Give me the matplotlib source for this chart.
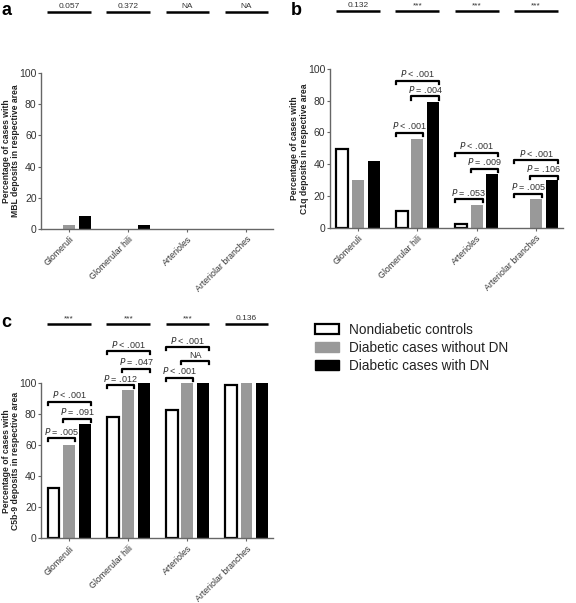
import matplotlib.pyplot as plt
from matplotlib.patches import Patch

plt.rcParams['font.family'] = ['Liberation Sans', 'DejaVu Sans']

# datos
categorias = ["Glomeruli", "Glomerular hili", "Arterioles", "Arteriolar branches"]
grupos = ["Nondiabetic controls", "Diabetic cases without DN", "Diabetic cases with DN"]

mbl_control = [0, 0, 0, 0]
mbl_sin_dn = [2.4, 0, 0, 0]
mbl_con_dn = [8.5, 2.6, 0, 0]

c1q_control = [49.6, 10.7, 2.5, 0]
c1q_sin_dn = [29.8, 56, 14.7, 17.9]
c1q_con_dn = [41.8, 79, 34, 29.8]

c5b9_control = [32.4, 78.4, 82.6, 98.5]
c5b9_sin_dn = [60.4, 95.5, 100, 100]
c5b9_con_dn = [73.5, 100, 100, 100]

global_a = ["0.057", "0.372", "NA", "NA"]
global_b = ["0.132", "***", "***", "***"]
global_c = ["***", "***", "***", "0.136"]

# comparaciones por pares: (categoria, grupo1, grupo2, altura, texto)
pares_b = [
    (1, 0, 2, 92.6, "< .001"), (1, 1, 2, 82.6, "= .004"), (1, 0, 1, 59.9, "< .001"),
    (2, 0, 2, 47.3, "< .001"), (2, 1, 2, 37.2, "= .009"), (2, 0, 1, 18.1, "= .053"),
    (3, 0, 2, 42.6, "< .001"), (3, 1, 2, 32.8, "= .106"), (3, 0, 1, 21.6, "= .005"),
]
pares_c = [
    (0, 0, 2, 87.9, "< .001"), (0, 1, 2, 76.9, "= .091"), (0, 0, 1, 64.4, "= .005"),
    (1, 0, 2, 120.4, "< .001"), (1, 1, 2, 109, "= .047"), (1, 0, 1, 98.5, "= .012"),
    (2, 0, 2, 123, "< .001"), (2, 1, 2, 114, "NA"), (2, 0, 1, 103.4, "< .001"),
]

paso = 0.265
ancho = 0.2
gris = "#999999"
texto_col = "#333333"


def barras(ax, control, sin_dn, con_dn, ylab):
    xs = list(range(len(categorias)))
    # las barras con valor 0 no se ven en el original
    xc = [x - paso for x, v in zip(xs, control) if v > 0]
    vc = [v for v in control if v > 0]
    xg = [x for x, v in zip(xs, sin_dn) if v > 0]
    vg = [v for v in sin_dn if v > 0]
    xn = [x + paso for x, v in zip(xs, con_dn) if v > 0]
    vn = [v for v in con_dn if v > 0]
    ax.bar(xc, vc, ancho, color="white", edgecolor="black", linewidth=1.6)
    ax.bar(xg, vg, ancho, color=gris, linewidth=0)
    ax.bar(xn, vn, ancho, color="black", linewidth=0)
    ax.set_xlim(-0.47, 3.45)
    ax.set_ylim(0, 100)
    ax.set_yticks([0, 20, 40, 60, 80, 100])
    ax.set_xticks(xs)
    ax.set_xticklabels(categorias, rotation=45, ha="right", rotation_mode="anchor",
                       fontsize=6.3, color=texto_col)
    ax.tick_params(axis="y", labelsize=7.5, labelcolor=texto_col, length=2.5,
                   color="#666666", pad=1)
    ax.tick_params(axis="x", length=2.5, color="#666666", pad=1.5)
    for s in ["top", "right"]:
        ax.spines[s].set_visible(False)
    for s in ["left", "bottom"]:
        ax.spines[s].set_color("#666666")
        ax.spines[s].set_linewidth(1)
    ax.set_ylabel(ylab, fontsize=6.2, fontweight="bold", color="#222222",
                  linespacing=1.05)
    ax.yaxis.set_label_coords(-0.092, 0.5)


def globales(ax, etiquetas, y):
    for i, t in enumerate(etiquetas):
        ax.plot([i - 0.37, i + 0.37], [y, y], color="black", lw=1.8, clip_on=False,
                solid_capstyle="butt")
        ax.text(i, y + 1, t, ha="center", va="bottom", fontsize=6, color=texto_col)


def corchete(ax, cat, g1, g2, y, txt):
    x1 = cat + (g1 - 1) * paso - ancho / 2
    x2 = cat + (g2 - 1) * paso + ancho / 2
    ax.plot([x1, x1, x2, x2], [y - 2, y, y, y - 2], color="black", lw=1.6, clip_on=False)
    if txt == "NA":
        s = "NA"
    else:
        s = "$\\it{P}$ " + txt
    ax.text((x1 + x2) / 2, y + 1, s, ha="center", va="bottom", fontsize=6.5, color=texto_col)


fig = plt.figure(figsize=(5.76, 6.03), dpi=100)

ax_a = fig.add_axes([0.072, 0.620, 0.402, 0.259])
barras(ax_a, mbl_control, mbl_sin_dn, mbl_con_dn,
       "Percentage of cases with\nMBL deposits in respective area")
globales(ax_a, global_a, 139)

ax_b = fig.add_axes([0.573, 0.622, 0.404, 0.264])
barras(ax_b, c1q_control, c1q_sin_dn, c1q_con_dn,
       "Percentage of cases with\nC1q deposits in respective area")
globales(ax_b, global_b, 136.5)
for p in pares_b:
    corchete(ax_b, *p)

ax_c = fig.add_axes([0.072, 0.107, 0.402, 0.258])
barras(ax_c, c5b9_control, c5b9_sin_dn, c5b9_con_dn,
       "Percentage of cases with\nC5b-9 deposits in respective area")
globales(ax_c, global_c, 138)
for p in pares_c:
    corchete(ax_c, *p)

fig.text(0.003, 0.982, "a", fontsize=13, fontweight="bold", va="center")
fig.text(0.505, 0.982, "b", fontsize=13, fontweight="bold", va="center")
fig.text(0.003, 0.466, "c", fontsize=13, fontweight="bold", va="center")

handles = [
    Patch(facecolor="white", edgecolor="black", linewidth=1.6),
    Patch(facecolor=gris, edgecolor=gris),
    Patch(facecolor="black", edgecolor="black"),
]
fig.legend(handles, grupos, loc="upper left", bbox_to_anchor=(0.525, 0.485),
           frameon=False, fontsize=9.8, handlelength=1.8, handleheight=0.8,
           labelspacing=0.3, handletextpad=0.7, labelcolor="#222222")

fig.savefig("out.png", dpi=100)
